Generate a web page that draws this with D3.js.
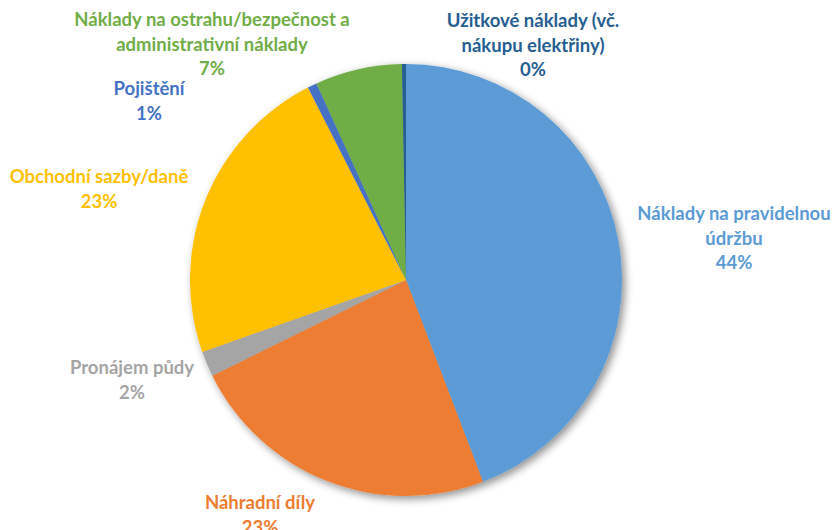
<!DOCTYPE html>
<html><head><meta charset="utf-8">
<script src="https://cdn.jsdelivr.net/npm/d3@7"></script>
<style>body{margin:0;background:#fff}svg{display:block}</style>
</head><body>
<svg id="c" width="832" height="530"></svg>
<script>
// Data (clockwise from 12 o'clock)
const categories = [
  "Náklady na pravidelnou údržbu",
  "Náhradní díly",
  "Pronájem půdy",
  "Obchodní sazby/daně",
  "Pojištění",
  "Náklady na ostrahu/bezpečnost a administrativní náklady",
  "Užitkové náklady (vč. nákupu elektřiny)"
];
const values = [44.2, 23.5, 1.9, 22.9, 0.7, 6.5, 0.3];
const percentLabels = ["44%", "23%", "2%", "23%", "1%", "7%", "0%"];
const labelLines = [
  ["Náklady na pravidelnou", "údržbu"],
  ["Náhradní díly"],
  ["Pronájem půdy"],
  ["Obchodní sazby/daně"],
  ["Pojištění"],
  ["Náklady na ostrahu/bezpečnost a", "administrativní náklady"],
  ["Užitkové náklady (vč.", "nákupu elektřiny)"]
];
const colors = ["#5B9BD5", "#ED7D31", "#A5A5A5", "#FFC000", "#4472C4", "#70AD47", "#255E91"];

// Layout
const cx = 406, cy = 280, R = 216;
const labelPos = [[734, 213], [260, 502], [132, 367], [99, 176], [149, 88], [212, 19], [533, 20]];
const lineH = 24.5;

const svg = d3.select("#c");
const defs = svg.append("defs");
const f = defs.append("filter").attr("id", "sh").attr("x", "-20%").attr("y", "-20%").attr("width", "140%").attr("height", "140%");
f.append("feGaussianBlur").attr("in", "SourceAlpha").attr("stdDeviation", 4).attr("result", "b");
f.append("feOffset").attr("in", "b").attr("dx", 3).attr("dy", 3).attr("result", "o");
f.append("feComponentTransfer").attr("in", "o").attr("result", "o2")
  .append("feFuncA").attr("type", "linear").attr("slope", 0.45);
const m = f.append("feMerge");
m.append("feMergeNode").attr("in", "o2");
m.append("feMergeNode").attr("in", "SourceGraphic");

const pie = d3.pie().sort(null).value(d => d)(values);
const arc = d3.arc().innerRadius(0).outerRadius(R);

const g = svg.append("g").attr("transform", `translate(${cx},${cy})`);
const slices = g.append("g").attr("filter", "url(#sh)");
slices.selectAll("path").data(pie).join("path")
  .attr("d", arc)
  .attr("fill", (d, i) => colors[i])
  .attr("stroke", "none");

const lg = svg.append("g").attr("font-family", "Lato, 'Open Sans', sans-serif")
  .attr("font-weight", "bold").attr("font-size", 18.5).attr("text-anchor", "middle");
categories.forEach((c, i) => {
  const lines = labelLines[i].concat([percentLabels[i]]);
  const t = lg.append("text").attr("fill", colors[i]);
  lines.forEach((ln, k) => {
    t.append("tspan").attr("x", labelPos[i][0]).attr("y", labelPos[i][1] + k * lineH)
      .attr("dominant-baseline", "central").text(ln);
  });
});
</script>
</body></html>
